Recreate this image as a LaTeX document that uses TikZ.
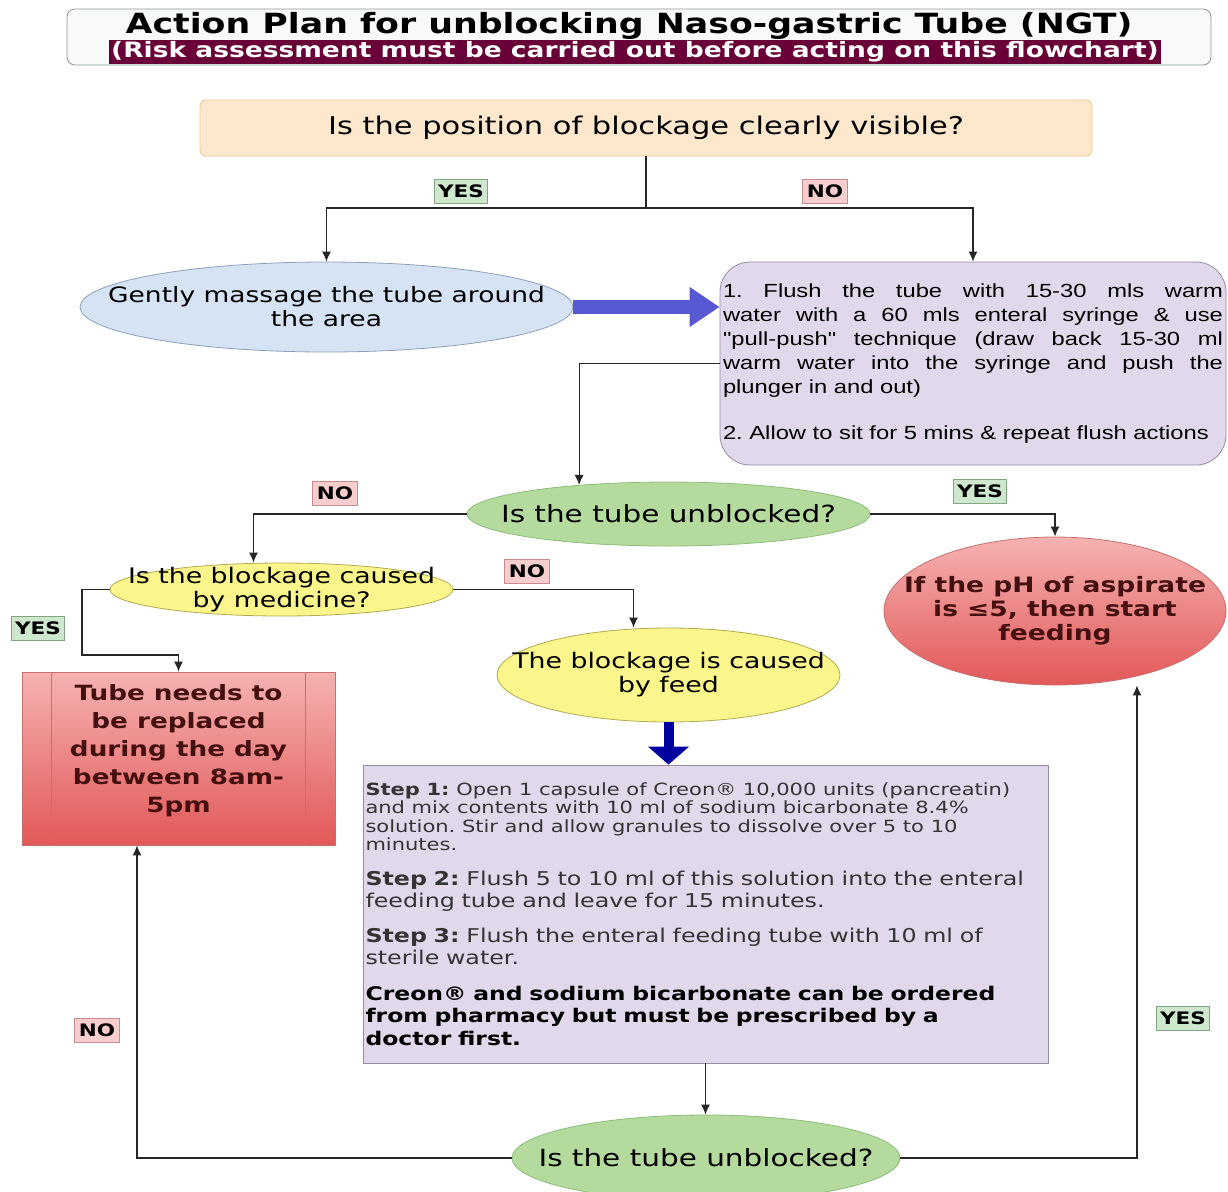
\documentclass[tikz,border=0pt]{standalone}
\usepackage{fontspec}
\setmainfont{DejaVu Sans}[FakeStretch=1.25]
\newfontfamily\flushfont{Liberation Sans}[FakeStretch=1.25]
\definecolor{TitleLine} {RGB}{140,150,150}
\definecolor{TitleFill} {RGB}{248,250,250}
\definecolor{PlumBand}  {RGB}{105,0,55}
\definecolor{PeachFill} {RGB}{253,231,205}
\definecolor{PeachLine} {RGB}{238,195,140}
\definecolor{SkyFill}   {RGB}{213,227,245}
\definecolor{SkyLine}   {RGB}{140,160,190}
\definecolor{LilacFill} {RGB}{226,216,236}
\definecolor{LilacLine} {RGB}{150,140,165}
\definecolor{MintFill}  {RGB}{180,218,158}
\definecolor{MintLine}  {RGB}{140,190,120}
\definecolor{LemonFill} {RGB}{250,246,140}
\definecolor{LemonLine} {RGB}{180,170,80}
\definecolor{RoseTop}   {RGB}{246,178,178}
\definecolor{RoseBot}   {RGB}{226,88,88}
\definecolor{RoseLine}  {RGB}{200,110,110}
\definecolor{RoseText}  {RGB}{70,15,15}
\definecolor{YesFill}   {RGB}{205,232,205}
\definecolor{YesLine}   {RGB}{130,165,130}
\definecolor{NoFill}    {RGB}{247,205,205}
\definecolor{NoLine}    {RGB}{200,140,140}
\definecolor{PushBlue}  {RGB}{88,88,210}
\definecolor{DeepBlue}  {RGB}{0,0,160}
\usetikzlibrary{arrows.meta,positioning,shapes.geometric}
\setlength{\parindent}{0pt}
\frenchspacing

\begin{document}
\begin{tikzpicture}[x=0.5pt,y=-0.5pt,
  box/.style={draw,align=center,inner sep=1.5pt},
  ell/.style={ellipse,draw,inner sep=0pt},
  yeslbl/.style={draw=YesLine,fill=YesFill,font=\bfseries\fontsize{8.6}{10}\selectfont,
                 inner xsep=2pt,inner ysep=1pt,minimum height=12pt},
  nolbl/.style={yeslbl,draw=NoLine,fill=NoFill},
  arr/.style={-{Latex[length=5pt,width=4.5pt]},draw=black!85,semithick},
  fat/.style={-{Triangle[length=15pt,width=19pt]},line width=7pt,PushBlue}]
  \useasboundingbox(0,0)rectangle(1228,1191);
  \node[box,draw=TitleLine,fill=TitleFill,rounded corners=4pt,
        minimum width=572pt,minimum height=28pt](T) at (639,37){};
  \node[font=\bfseries\fontsize{13.9}{16}\selectfont,inner sep=0pt]
       (T1) at (629,26){Action Plan for unblocking Naso-gastric Tube (NGT)};
  \node[fill=PlumBand,text=white,font=\bfseries\fontsize{10.6}{12}\selectfont,inner sep=1pt]
       (T2) at (635,52){(Risk assessment must be carried out before acting on this flowchart)};
  \node[box,draw=PeachLine,fill=PeachFill,rounded corners=3pt,minimum width=446pt,
        minimum height=28pt,font=\fontsize{12.2}{14}\selectfont]
       (Q) at (646,128){Is the position of blockage clearly visible?};
  \node[ell,draw=SkyLine,fill=SkyFill,minimum width=246.5pt,minimum height=45pt,
        label={[align=center,font=\fontsize{10.6}{12}\selectfont]center:Gently massage the tube around\\the area}]
       (M) at (326.5,307){};
  \node[box,draw=LilacLine,fill=LilacFill,rounded corners=15pt,minimum height=101.5pt,
        text width=250pt,align=justify,font=\flushfont\fontsize{9.5}{12}\selectfont]
       (F) at (973,363.5){1. Flush the tube with 15-30 mls warm\linebreak
        water with a 60 mls enteral syringe \& use\linebreak
        "pull-push" technique (draw back 15-30 ml\linebreak
        warm water into the syringe and push the\linebreak
        plunger in and out)\par\vspace{11pt}
        2. Allow to sit for 5 mins \& repeat flush actions};
  \node[ell,draw=MintLine,fill=MintFill,minimum width=201.5pt,minimum height=32pt,
        label={[font=\fontsize{11.8}{14}\selectfont]center:Is the tube unblocked?}]
       (U) at (668.5,514){};
  \node[ell,draw=RoseLine,top color=RoseTop,bottom color=RoseBot,minimum width=171pt,
        minimum height=74pt,
        label={[align=center,text=RoseText,font=\bfseries\fontsize{10.6}{12}\selectfont]center:If the pH of aspirate\\is ≤5, then start\\feeding}]
       (P) at (1055,611){};
  \node[ell,draw=LemonLine,fill=LemonFill,minimum width=171.5pt,minimum height=26.5pt,
        label={[align=center,font=\fontsize{10.7}{12}\selectfont]center:Is the blockage caused\\by medicine?}]
       (Y) at (281.5,589.5){};
  \node[ell,draw=LemonLine,fill=LemonFill,minimum width=171.5pt,minimum height=47pt,
        label={[align=center,font=\fontsize{10.7}{12}\selectfont]center:The blockage is caused\\by feed}]
       (D) at (668.5,675){};
  \node[box,draw=RoseLine,top color=RoseTop,bottom color=RoseBot,minimum width=156.5pt,
        minimum height=86.5pt,
        label={[yshift=4pt,align=center,text=RoseText,font=\bfseries\fontsize{10.5}{14}\selectfont]center:Tube needs to\\be replaced\\during the day\\between 8am-\\5pm}]
       (R) at (178.5,758.5){};
  \draw[RoseLine]([xshift=15pt]R.north west)--([xshift=15pt]R.south west);
  \draw[RoseLine]([xshift=-15pt]R.north east)--([xshift=-15pt]R.south east);
  \node[box,draw=LilacLine,fill=LilacFill,minimum height=149pt,text width=340pt,
        align=left,inner xsep=1.25pt,text=black!80]
       (S) at (705.5,914){{\fontsize{8.4}{9.25}\selectfont\textbf{Step 1:} Open 1 capsule of Creon® 10,000 units (pancreatin)\\
        and mix contents with 10 ml of sodium bicarbonate 8.4\%\\
        solution. Stir and allow granules to dissolve over 5 to 10\\
        minutes.\par}\vspace{6.5pt}
        {\fontsize{9.5}{11}\selectfont\textbf{Step 2:} Flush 5 to 10 ml of this solution into the enteral\\
        feeding tube and leave for 15 minutes.\par}\vspace{6.5pt}
        {\fontsize{9.5}{11}\selectfont\textbf{Step 3:} Flush the enteral feeding tube with 10 ml of\\
        sterile water.\par}\vspace{6.5pt}
        {\fontsize{9.4}{11.25}\selectfont\bfseries\color{black}Creon® and sodium bicarbonate can be ordered\\
        from pharmacy but must be prescribed by a\\
        doctor first.\par}};
  \node[ell,draw=MintLine,fill=MintFill,minimum width=194pt,minimum height=43pt,
        label={[font=\fontsize{11.8}{14}\selectfont]center:Is the tube unblocked?}]
       (V) at (706,1158){};
  \node[yeslbl](L1) at (461,191){YES};
  \node[nolbl](L2) at (825,191){NO};
  \node[nolbl](L3) at (335,493){NO};
  \node[yeslbl](L4) at (980,491){YES};
  \node[yeslbl](L5) at (38,628){YES};
  \node[nolbl](L6) at (527,571){NO};
  \node[nolbl](L7) at (97,1030){NO};
  \node[yeslbl](L8) at (1183,1018){YES};
  \coordinate(J) at (646,208);
  \coordinate(K) at (82,655);
  \draw[arr](Q.south)--(J)-|(M.north);
  \draw[arr](J)-|(F.north);
  \draw[fat](M.east)--(M.east-|F.west);
  \draw[arr](F.west)-|(U.162);
  \draw[arr](U.west)-|([xshift=-14pt]Y.north);
  \draw[arr](U.east)-|(P.north);
  \draw[arr](Y.west)-|(K)-|(R.north);
  \draw[arr](Y.east)-|([xshift=-17.5pt]D.north);
  \draw[fat,DeepBlue,line width=5pt,-{Triangle[length=9pt,width=20pt]}](D.south)--(D.south|-S.north);
  \draw[arr](S.south)--(S.south|-V.north);
  \draw[arr](V.west)-|([xshift=-20.75pt]R.south);
  \draw[arr](V.east)-|([xshift=41pt]P.south);
\end{tikzpicture}
\end{document}
